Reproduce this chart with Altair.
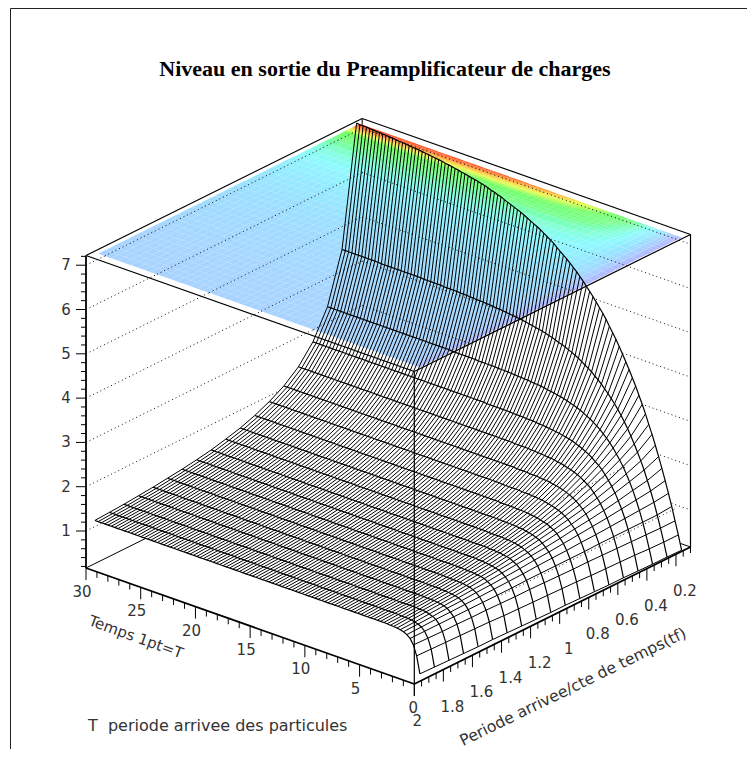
import altair as alt
import pandas as pd

alt.data_transformers.disable_max_rows()

TITLE = "Niveau en sortie du Preamplificateur de charges"
T_TITLE = "Temps 1pt=T"
P_TITLE = "Periode arrivee/cte de temps(tf)"
NOTE = "T\u00a0\u00a0periode arrivee des particules"

t_ticks = [0, 5, 10, 15, 20, 25, 30]
p_ticks = [2, 1.8, 1.6, 1.4, 1.2, 1, 0.8, 0.6, 0.4, 0.2]
p_labels = ["2", "1.8", "1.6", "1.4", "1.2", "1", "0.8", "0.6", "0.4", "0.2"]
z_ticks = [1, 2, 3, 4, 5, 6, 7]

periods = [1.95, 1.85, 1.75, 1.65, 1.55, 1.45, 1.35, 1.25, 1.15, 1.05,
           0.95, 0.85, 0.75, 0.65, 0.55, 0.45, 0.35, 0.25, 0.15]
times = [0.15 + 0.3 * i for i in range(100)]

# Level read at each time column; each row ends on the plateau it settles to.
z195 = [.30,.68,.90,1.02,1.08,1.12,1.14,1.15,1.16,1.16]
z185 = [.29,.67,.89,1.02,1.09,1.13,1.15,1.17,1.18,1.18,1.18]
z175 = [.28,.66,.88,1.02,1.10,1.14,1.17,1.19,1.20,1.20,1.21,1.21]
z165 = [.27,.65,.88,1.02,1.10,1.16,1.19,1.21,1.22,1.23,1.23,1.23,1.24]
z155 = [.26,.64,.87,1.02,1.11,1.17,1.21,1.23,1.24,1.25,1.26,1.26,1.27,1.27]
z145 = [.26,.63,.87,1.02,1.12,1.19,1.23,1.26,1.27,1.29,1.29,1.30,1.30,1.30,1.30]
z135 = [.25,.61,.86,1.02,1.13,1.20,1.25,1.29,1.31,1.32,1.33,1.34,1.34,1.34,1.35,1.35]
z125 = [.24,.60,.85,1.02,1.14,1.22,1.28,1.32,1.34,1.36,1.37,1.38,1.39,1.39,1.40,1.40,1.40]
z115 = [.23,.59,.85,1.03,1.15,1.24,1.31,1.35,1.39,1.41,1.42,1.44,1.44,1.45,1.45,1.46,1.46,1.46]
z105 = [.22,.58,.84,1.03,1.17,1.27,1.34,1.39,1.43,1.46,1.48,1.50,1.51,1.52,1.52,1.53,1.53,1.53,1.53,1.53]
z095 = [.22,.57,.83,1.03,1.18,1.29,1.37,1.44,1.49,1.52,1.55,1.57,1.58,1.60,1.60,1.61,1.62,1.62,1.62,1.62,1.63,1.63,1.63]
z085 = [.21,.56,.82,1.03,1.19,1.32,1.41,1.49,1.55,1.59,1.63,1.65,1.67,1.69,1.70,1.71,1.72,1.73,1.73,1.73,1.74,1.74,1.74,1.74,1.74]
z075 = [.20,.54,.82,1.03,1.21,1.35,1.46,1.54,1.62,1.67,1.72,1.75,1.78,1.80,1.82,1.84,1.85,1.86,1.87,1.87,1.88,1.88,1.88,1.89,1.89,1.89,1.89,1.89,1.89]
z065 = [.19,.53,.81,1.04,1.22,1.38,1.50,1.61,1.69,1.76,1.82,1.87,1.91,1.94,1.97,1.99,2.01,2.02,2.04,2.05,2.05,2.06,2.07,2.07,2.07,2.08,2.08,2.08,2.08,2.09,2.09,2.09,2.09]
z055 = [.19,.52,.80,1.04,1.24,1.41,1.55,1.68,1.78,1.87,1.95,2.01,2.06,2.11,2.15,2.18,2.21,2.23,2.25,2.27,2.28,2.30,2.31,2.31,2.32,2.33,2.33,2.34,2.34,2.35,2.35,2.35,2.35,2.35,2.36,2.36,2.36,2.36,2.36,2.36]
z045 = [.18,.51,.79,1.04,1.26,1.45,1.61,1.76,1.88,1.99,2.09,2.18,2.25,2.31,2.37,2.42,2.46,2.50,2.53,2.56,2.59,2.61,2.63,2.64,2.66,2.67,2.68,2.69,2.70,2.71,2.71,2.72,2.73,2.73,2.73,2.74,2.74,2.74,2.74,2.75,2.75,2.75,2.75,2.75,2.75,2.75,2.75]
z035 = [.17,.49,.78,1.04,1.28,1.49,1.68,1.85,2.00,2.14,2.26,2.37,2.48,2.57,2.65,2.72,2.79,2.85,2.90,2.95,2.99,3.03,3.07,3.10,3.13,3.15,3.18,3.20,3.22,3.23,3.25,3.26,3.27,3.29,3.30,3.31,3.31,3.32,3.33,3.33,3.34,3.34,3.35,3.35,3.36,3.36,3.36,3.36,3.37,3.37,3.37,3.37,3.37,3.37,3.38,3.38,3.38,3.38,3.38,3.38,3.38,3.38]
z025 = [.17,.48,.77,1.04,1.30,1.53,1.74,1.95,2.13,2.30,2.46,2.61,2.75,2.88,3.00,3.11,3.21,3.30,3.39,3.47,3.55,3.62,3.68,3.75,3.80,3.85,3.90,3.95,3.99,4.03,4.06,4.10,4.13,4.15,4.18,4.21,4.23,4.25,4.27,4.29,4.30,4.32,4.33,4.35,4.36,4.37,4.38,4.39,4.40,4.41,4.42,4.43,4.43,4.44,4.45,4.45,4.46,4.46,4.46,4.47,4.47,4.48,4.48,4.48,4.49,4.49,4.49,4.49,4.49,4.50,4.50,4.50,4.50,4.50,4.50,4.51,4.51,4.51,4.51,4.51,4.51,4.51,4.51,4.51,4.51,4.51,4.51,4.51]
z015 = [.16,.48,.77,1.07,1.34,1.60,1.85,2.09,2.32,2.54,2.74,2.95,3.14,3.32,3.50,3.66,3.82,3.97,4.12,4.26,4.40,4.52,4.64,4.77,4.88,4.98,5.08,5.18,5.27,5.36,5.45,5.53,5.61,5.68,5.75,5.82,5.88,5.94,6.00,6.07,6.12,6.17,6.22,6.27,6.31,6.35,6.39,6.43,6.47,6.51,6.54,6.57,6.60,6.63,6.66,6.70,6.72,6.75,6.77,6.80,6.82,6.84,6.86,6.88,6.89,6.91,6.93,6.94,6.96,6.97,6.99,7.00,7.01,7.03,7.04,7.05,7.06,7.07,7.08,7.09,7.10,7.11,7.11,7.12,7.13,7.14,7.14,7.15,7.16,7.16,7.17,7.17,7.18,7.18,7.19,7.19,7.20,7.20,7.20,7.21]
plateaus = [1.17,1.19,1.21,1.24,1.27,1.31,1.35,1.40,1.46,1.54,1.63,1.75,1.90,2.09,2.36,2.76,3.39,4.52,7.21]
rows = [z195,z185,z175,z165,z155,z145,z135,z125,z115,z105,z095,z085,z075,z065,z055,z045,z035,z025,z015]
table = [r + [pl] * (100 - len(r)) for r, pl in zip(rows, plateaus)]

Z_LOW, Z_HIGH = 0.165, 7.22
W, H = 739, 741


def proj(t, p, z):
    """Oblique view of the box, in chart pixels."""
    u, v = t / 30, (2 - p) / 1.9
    return (406.3 - 328.3 * u + 276.2 * v,
            676 - 116 * u - 137 * v - (z - Z_LOW) * 44.3)


def seg_row(a, b):
    return {"x": a[0], "y": a[1], "x2": b[0], "y2": b[1]}


xs = alt.Scale(domain=[0, W], nice=False, zero=False)
ys = alt.Scale(domain=[H, 0], nice=False, zero=False)
X = alt.X("x:Q", scale=xs, axis=None)
Y = alt.Y("y:Q", scale=ys, axis=None)


def rules(segs, **mark):
    return alt.Chart(pd.DataFrame(segs)).mark_rule(**mark).encode(
        x=X, y=Y, x2="x2:Q", y2="y2:Q")


F = proj(0, 2, Z_LOW); L = proj(30, 2, Z_LOW); R = proj(0, 0.1, Z_LOW); B = proj(30, 0.1, Z_LOW)
Ft = proj(0, 2, Z_HIGH); Lt = proj(30, 2, Z_HIGH); Rt = proj(0, 0.1, Z_HIGH); Bt = proj(30, 0.1, Z_HIGH)

identity = dict(type="identity", scale=1, translate=[0, 0])


def polygon(points, z=None):
    ring = [list(q) for q in points] + [list(points[0])]
    return {"type": "Feature", "properties": {"z": z},
            "geometry": {"type": "Polygon", "coordinates": [ring]}}


# Walls behind the surface
hidden_box = rules([seg_row(L, B), seg_row(B, R), seg_row(B, Bt)], color="black", strokeWidth=1)
wall = []
for z in z_ticks:
    wall.append((proj(30, 2, z), proj(30, 0.1, z)))
    wall.append((proj(30, 0.1, z), proj(0, 0.1, z)))
dots = dict(color="#111111", strokeWidth=1, strokeDash=[1, 3])
wall_layer = rules([seg_row(a, b) for a, b in wall], **dots)

# White body of the surface hides what lies behind it
strips = []
for j in range(18):
    a = [proj(t, periods[j], table[j][i]) for i, t in enumerate(times)]
    b = [proj(t, periods[j + 1], table[j + 1][i]) for i, t in enumerate(times)]
    strips.append(polygon(a + b[::-1]))
body = alt.Chart(alt.Data(values=strips)).mark_geoshape(
    fill="white", stroke="white", strokeWidth=0.5).project(**identity)

# Contour view on the top plane
color_scale = alt.Scale(
    domain=[0.15, 0.6, 1.2, 1.7, 2.3, 2.8, 3.4, 4.4, 5.2, 5.8, 6.4, 7.2],
    range=["#b8b0ff", "#b0c0ff", "#a8d4ff", "#98e4ff", "#90f8ff", "#88ffd8",
           "#78ff90", "#70ff60", "#e0ff50", "#ffc040", "#ff7030", "#ff4020"])
cells = []
for j in range(18):
    nsub = 8 if j == 17 else 4 if j == 16 else 2
    for i in range(0, 98, 2):
        for s in range(nsub):
            f0, f1 = s / nsub, (s + 1) / nsub
            p0 = periods[j] + (periods[j + 1] - periods[j]) * f0
            p1 = periods[j] + (periods[j + 1] - periods[j]) * f1
            fm = (f0 + f1) / 2
            zm = sum(table[j][c] * (1 - fm) + table[j + 1][c] * fm for c in (i, i + 1, i + 2)) / 3
            cells.append(polygon([proj(times[i], p0, Z_HIGH), proj(times[i + 2], p0, Z_HIGH),
                                  proj(times[i + 2], p1, Z_HIGH), proj(times[i], p1, Z_HIGH)], round(zm, 2)))
plane = alt.Chart(alt.Data(values=cells)).mark_geoshape(strokeWidth=0).project(**identity).encode(
    color=alt.Color("properties.z:Q", scale=color_scale, legend=None))


# Dotted wall lines seen over the plane
def clip(a, b, poly):
    t0, t1 = 0.0, 1.0
    n = len(poly)
    cx, cy = (sum(q[0] for q in poly) / n, sum(q[1] for q in poly) / n)
    for i in range(n):
        e0, e1 = poly[i], poly[(i + 1) % n]
        nx, ny = e1[1] - e0[1], e0[0] - e1[0]
        if nx * (cx - e0[0]) + ny * (cy - e0[1]) < 0:
            nx, ny = -nx, -ny
        da = nx * (a[0] - e0[0]) + ny * (a[1] - e0[1])
        db = nx * (b[0] - e0[0]) + ny * (b[1] - e0[1])
        if da < 0 and db < 0:
            return None
        if da < 0:
            t0 = max(t0, da / (da - db))
        elif db < 0:
            t1 = min(t1, da / (da - db))
    if t0 >= t1:
        return None
    return ((a[0] + (b[0] - a[0]) * t0, a[1] + (b[1] - a[1]) * t0),
            (a[0] + (b[0] - a[0]) * t1, a[1] + (b[1] - a[1]) * t1))


corners = [proj(times[0], 1.95, Z_HIGH), proj(times[0], 0.15, Z_HIGH),
           proj(times[-1], 0.15, Z_HIGH), proj(times[-1], 1.95, Z_HIGH)]
over = [clip(a, b, corners) for a, b in wall]
over_layer = rules([seg_row(*c) for c in over if c], **dots)

# Mesh
mesh = []
for i, t in enumerate(times):
    for j, p in enumerate(periods):
        x, y = proj(t, p, table[j][i])
        mesh.append({"line": f"t{i}", "o": j, "x": x, "y": y, "w": "t"})
for j, p in enumerate(periods):
    for i, t in enumerate(times):
        x, y = proj(t, p, table[j][i])
        mesh.append({"line": f"p{j}", "o": i, "x": x, "y": y, "w": "p"})
mesh_df = pd.DataFrame(mesh)
mesh_t = alt.Chart(mesh_df[mesh_df.w == "t"]).mark_line(color="black", strokeWidth=1).encode(
    x=X, y=Y, detail="line:N", order="o:Q")
mesh_p = alt.Chart(mesh_df[mesh_df.w == "p"]).mark_line(color="black", strokeWidth=1.2).encode(
    x=X, y=Y, detail="line:N", order="o:Q")

front_dots = rules([seg_row(proj(0, 1.4, 1.2), proj(0, 0.2, 1.2)),
                    seg_row(proj(0, 1.0, 2.7), proj(0, 0.55, 2.7))], **dots)

# Box and axes
box = rules([seg_row(Lt, Bt), seg_row(Bt, Rt), seg_row(Rt, Ft), seg_row(Ft, Lt),
             seg_row(R, Rt), seg_row(F, Ft)], color="black", strokeWidth=1.2)
axes = rules([seg_row(L, Lt), seg_row(L, F), seg_row(F, R)], color="black", strokeWidth=1.8)

ticks = []
for i in range(0, 31):
    a = proj(i, 2, Z_LOW)
    ticks.append(seg_row(a, (a[0], a[1] + (12 if i % 5 == 0 else 6))))
for i in range(2, 41):
    p = 0.05 * i
    a = proj(0, p, Z_LOW)
    ticks.append(seg_row(a, (a[0], a[1] + (12 if i % 4 == 0 else 6))))
for i in range(0, 36):
    z = 0.2 + 0.2 * i
    a = proj(30, 2, z)
    ticks.append(seg_row(a, (a[0] - (10 if abs(z - round(z)) < 1e-6 else 5), a[1])))
tick_layer = rules(ticks, color="black", strokeWidth=1)

font = dict(font="DejaVu Sans", fontSize=15, color="#333333")
labels = []
for v in t_ticks:
    a = proj(v, 2, Z_LOW)
    labels.append({"x": a[0] - 4 if v else a[0] - 1, "y": a[1] + 24, "s": str(v)})
for v, s in zip(p_ticks, p_labels):
    a = proj(0, v, Z_LOW)
    labels.append({"x": a[0] + (9 if v != 2 else 3), "y": a[1] + 37, "s": s})
for v in z_ticks:
    a = proj(30, 2, v)
    labels.append({"x": a[0] - 20, "y": a[1], "s": str(v)})
label_layer = alt.Chart(pd.DataFrame(labels)).mark_text(**font).encode(x=X, y=Y, text="s:N")


def note(text, x, y, angle=0, align="center", **kw):
    style = {**font, **kw}
    return alt.Chart(pd.DataFrame({"s": [text]})).mark_text(
        angle=angle, align=align, baseline="middle", **style).encode(
        x=alt.value(x - 8), y=alt.value(y - 8), text="s:N")


title = note(TITLE, 385, 69, font="Liberation Serif", fontSize=22, fontWeight="bold", color="black")
t_title = note(T_TITLE, 136, 637, angle=20, fontSize=15)
p_title = note(P_TITLE, 573, 687, angle=334, fontSize=15.6)
bottom = note(NOTE, 88, 726, align="left", fontSize=16)

frame = rules([{"x": 2.5, "y": 0.5, "x2": 2.5, "y2": H},
               {"x": 2.5, "y": 0.5, "x2": W, "y2": 0.5}], color="#222222", strokeWidth=1)

chart = alt.layer(
    frame, hidden_box, wall_layer, body, plane, over_layer, mesh_t, mesh_p, front_dots,
    box, axes, tick_layer, label_layer, title, t_title, p_title, bottom
).properties(width=W, height=H, autosize=alt.AutoSizeParams(type="none"), padding=0
).configure_view(stroke=None)

chart.save("out.html", embed_options={"renderer": "svg", "actions": False})
